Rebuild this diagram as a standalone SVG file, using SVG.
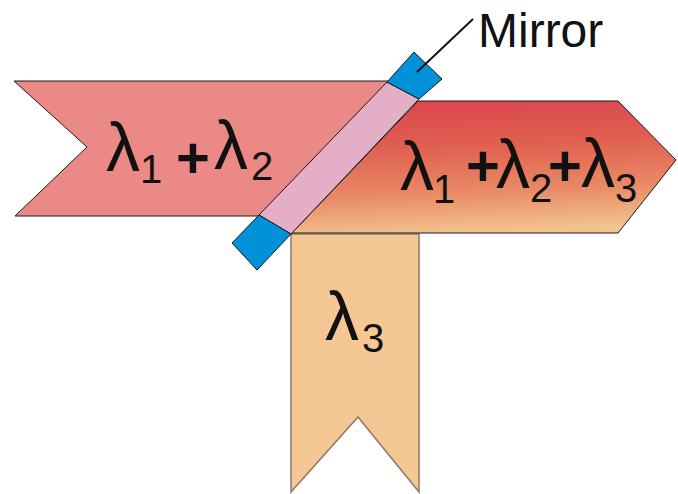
<svg xmlns="http://www.w3.org/2000/svg" width="678" height="494" viewBox="0 0 678 494">
<defs>
<linearGradient id="g" x1="0.3" y1="0" x2="0.42" y2="1">
<stop offset="0" stop-color="#db4550"/>
<stop offset="0.35" stop-color="#e06050"/>
<stop offset="0.7" stop-color="#e88a66"/>
<stop offset="1" stop-color="#f3c38e"/>
</linearGradient>
<style>
.sh{stroke:#1a1a1a;stroke-width:1;stroke-linejoin:miter}
.t{font-family:"Liberation Sans",Arial,sans-serif;fill:#111;font-size:68px}
.s{font-size:40px}
.p{font-size:58px;font-weight:bold}
</style>
</defs>
<rect width="678" height="494" fill="#fff"/>
<g id="beam3">
<polygon points="291,234 419,234 419,492 358,417 291,492" fill="#f5c794" stroke="#8a7a6a" stroke-width="1.5"/>
<text class="t"><tspan x="325" y="340">λ</tspan><tspan class="s" x="362" y="352">3</tspan></text>
</g>
<g id="beam12">
<polygon class="sh" points="14,81 392,81 260,216 15,216 87,147" fill="#ea8985"/>
<text class="t"><tspan x="106" y="171">λ</tspan><tspan class="s" x="140" y="183">1</tspan><tspan class="p" x="176" y="178">+</tspan><tspan x="214" y="169">λ</tspan><tspan class="s" x="251" y="180">2</tspan></text>
</g>
<g id="beam123">
<polygon class="sh" points="418,101 618,101 676,160 618,233 292,233" fill="url(#g)"/>
<text class="t"><tspan x="400" y="190">λ</tspan><tspan class="s" x="433" y="203">1</tspan><tspan class="p" x="466" y="186">+</tspan><tspan x="496" y="188">λ</tspan><tspan class="s" x="530" y="202">2</tspan><tspan class="p" x="548" y="186">+</tspan><tspan x="581" y="187">λ</tspan><tspan class="s" x="615" y="202">3</tspan></text>
</g>
<g id="mirror">
<polygon class="sh" points="387,82 419,99 291,234 259,215" fill="#e4aec6"/>
<polygon class="sh" points="387,82 414,52 442,79 419,99" fill="#0091d9"/>
<polygon class="sh" points="259,215 291,234 257,270 232,243" fill="#0091d9"/>
</g>
<g id="connectors">
<line x1="417" y1="72" x2="473" y2="19" stroke="#111" stroke-width="2"/>
</g>
<g id="label">
<text class="t" x="478" y="47" style="font-size:48px">Mirror</text>
</g>
</svg>
